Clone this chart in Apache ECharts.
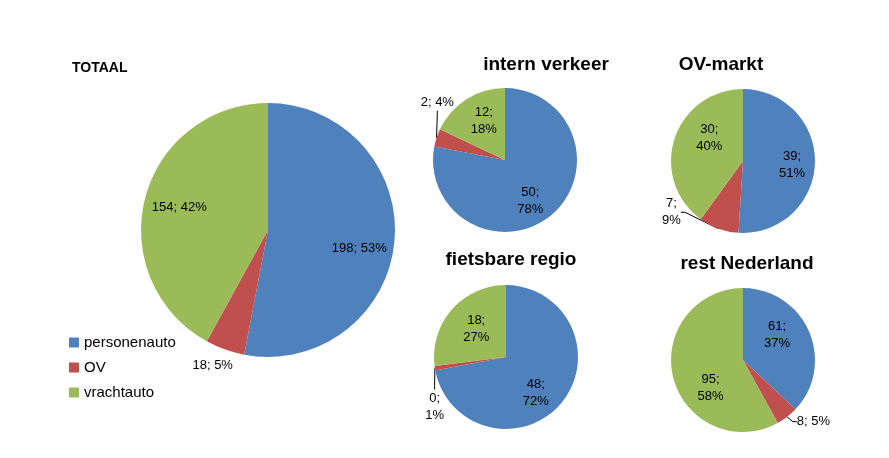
<!DOCTYPE html>
<html><head><meta charset="utf-8">
<script src="https://cdn.jsdelivr.net/npm/echarts@6/dist/echarts.min.js"></script>
<style>html,body{margin:0;padding:0;background:#fff}#c{width:889px;height:458px}</style>
</head><body><div id="c"></div>
<script>
// ---- data ----
const categories = ['personenauto', 'OV', 'vrachtauto'];
const titles = ['TOTAAL', 'intern verkeer', 'OV-markt', 'fietsbare regio', 'rest Nederland'];
const totaalCounts = [198, 18, 154];
const totaalPct = [53, 5, 42];
const internCounts = [50, 2, 12];
const internPct = [78, 4, 18];
const ovCounts = [39, 7, 30];
const ovPct = [51, 9, 40];
const fietsCounts = [48, 0, 18];
const fietsPct = [72, 1, 27];
const restCounts = [61, 8, 95];
const restPct = [37, 5, 58];

const colors = ['#4F81BD', '#C0504D', '#9BBB59'];
const FONT = 'Liberation Sans';

// layout / style per pie (not data)
const pies = [
  {counts: totaalCounts, pct: totaalPct, center: [268, 230], r: 127, r0f: 0.46, multiline: false,
   outside: {1: {line: false, len: 12, len2: 0}},
   off: [[-4, 9], [17, 5], [4, 1]]},
  {counts: internCounts, pct: internPct, center: [505, 160], r: 72, r0f: 0.28, multiline: true,
   outside: {1: {line: true, len: 8, len2: 4, single: true}},
   off: [[-6, 3], [34, -33], [5, 2]]},
  {counts: ovCounts, pct: ovPct, center: [743, 161], r: 72, r0f: 0.28, multiline: true,
   outside: {1: {line: true, len: 8, len2: 4}},
   off: [[0, 2], [-26, -24], [13, -8]]},
  {counts: fietsCounts, pct: fietsPct, center: [506, 357], r: 72, r0f: 0.28, multiline: true,
   outside: {1: {line: true, len: 8, len2: 4}},
   off: [[-8, 5], [26, 37], [7, 4]]},
  {counts: restCounts, pct: restPct, center: [743, 360], r: 72, r0f: 0.28, multiline: true,
   outside: {1: {line: true, len: 6, len2: 4, single: true}},
   off: [[-11, -6], [-3, 0], [15, 16]]}
];
const titlePos = [
  {left: 72, top: 61, size: 14, align: 'left'},
  {left: 546, top: 55, size: 19, align: 'center'},
  {left: 721, top: 55, size: 19, align: 'center'},
  {left: 511, top: 250, size: 19, align: 'center'},
  {left: 747, top: 254, size: 19, align: 'center'}
];

const series = [];
pies.forEach((p, pi) => {
  // drawn pie
  series.push({
    type: 'pie', name: titles[pi], center: p.center, radius: [0, p.r],
    startAngle: 90, clockwise: true, silent: true, animation: false,
    label: {show: false}, labelLine: {show: false},
    data: categories.map((c, i) => ({name: c, value: p.pct[i], itemStyle: {color: colors[i]}}))
  });
  // label carrier ring (transparent)
  series.push({
    type: 'pie', name: titles[pi] + '-labels', center: p.center, radius: [p.r * p.r0f, p.r],
    startAngle: 90, clockwise: true, silent: true, animation: false,
    itemStyle: {color: 'rgba(0,0,0,0)'},
    label: {
      show: true, position: 'inside', color: '#000', fontFamily: FONT, fontSize: 13, lineHeight: 17,
      formatter: (prm) => {
        const o = p.outside[prm.dataIndex];
        const sep = (p.multiline && !(o && o.single)) ? ';\n' : '; ';
        return p.counts[prm.dataIndex] + sep + p.pct[prm.dataIndex] + '%';
      }
    },
    labelLine: {show: false},
    labelLayout: (prm) => {
      const o = p.off[prm.dataIndex];
      if (!o || (o[0] === 0 && o[1] === 0)) return {};
      return {
        x: prm.labelRect.x + prm.labelRect.width / 2 + o[0],
        y: prm.labelRect.y + prm.labelRect.height / 2 + o[1],
        align: 'center', verticalAlign: 'middle'
      };
    },
    data: categories.map((c, i) => {
      const d = {name: c, value: p.pct[i]};
      const o = p.outside[i];
      if (o) {
        d.label = {position: 'outside'};
        d.labelLine = {show: o.line, length: o.len, length2: o.len2, smooth: false,
                       lineStyle: {color: '#000', width: 1}};
      }
      return d;
    })
  });
});

const chart = echarts.init(document.getElementById('c'), null, {renderer: 'canvas'});
chart.setOption({
  animation: false,
  backgroundColor: '#fff',
  color: colors,
  title: titles.map((t, i) => ({
    text: t, left: titlePos[i].left, top: titlePos[i].top, textAlign: titlePos[i].align,
    padding: 0,
    textStyle: {fontFamily: FONT, fontWeight: 'bold', fontSize: titlePos[i].size, color: '#000'}
  })),
  legend: {
    orient: 'vertical', left: 69, top: 335, itemWidth: 10, itemHeight: 10, itemGap: 10,
    icon: 'rect', padding: 0, selectedMode: false,
    textStyle: {fontFamily: FONT, fontSize: 15, lineHeight: 15, color: '#000'},
    data: categories
  },
  series: series
});
</script></body></html>
